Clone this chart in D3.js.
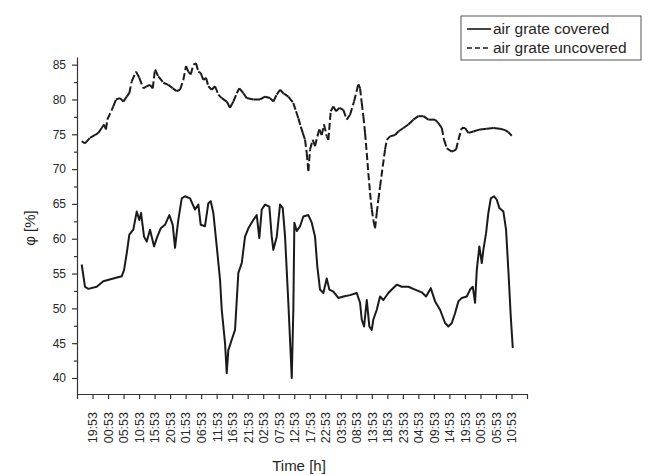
<!DOCTYPE html>
<html>
<head>
<meta charset="utf-8">
<script src="https://cdn.jsdelivr.net/npm/d3@7"></script>
<style>
body { margin: 0; background: #fff; }
text { font-family: "Liberation Sans", Arial, sans-serif; fill: #262626; }
</style>
</head>
<body>
<svg width="650" height="475"></svg>
<script>
var timeLabels = ["19:53","00:53","05:53","10:53","15:53","20:53","01:53","06:53","11:53","16:53",
                  "21:53","02:53","07:53","12:53","17:53","22:53","03:53","08:53","13:53","18:53",
                  "23:53","04:53","09:53","14:53","19:53","00:53","05:53","10:53"];
var phiTicks = [40, 45, 50, 55, 60, 65, 70, 75, 80, 85];

// hours since first 19:53 tick, relative humidity in %
var coveredHours = [-3.48,-2.42,-1.35,1.35,3.48,6.70,9.41,10.15,11.02,11.86,13.15,14.24,15.08,15.63,16.60,17.47,
  18.53,19.82,20.88,21.98,23.36,24.75,25.85,26.59,27.13,27.65,28.75,29.81,31.42,33.03,34.10,34.87,36.25,37.32,
  38.09,38.93,40.03,41.09,41.64,42.70,43.25,43.76,44.86,45.92,46.99,48.08,49.15,50.21,51.82,52.92,53.75,54.53,
  55.59,56.98,57.75,58.27,59.36,60.43,61.30,62.04,63.10,64.20,64.71,65.04,65.81,66.87,67.93,69.54,70.64,71.70,
  72.44,73.31,74.38,75.47,76.31,77.60,79.21,80.82,82.98,85.14,86.21,86.75,87.50,88.37,89.20,89.98,90.49,91.59,
  92.65,93.72,95.33,96.42,98.03,99.65,101.77,103.93,106.09,107.48,108.99,110.38,111.99,113.60,114.66,115.76,
  116.82,117.89,118.98,120.59,121.66,122.53,123.27,123.82,124.65,125.43,125.94,126.81,127.55,128.33,129.39,
  130.26,131.10,132.39,133.25,133.99,134.77,135.42];
var coveredPhi = [56.3,53.1,52.8,53.1,53.9,54.3,54.6,55.5,57.9,60.6,61.3,63.9,62.7,63.7,60.3,59.6,
  61.3,58.9,60.3,61.5,62.0,63.4,62.0,58.7,60.8,62.7,65.8,66.1,65.8,64.2,64.9,62.0,61.8,65.1,
  65.4,63.7,58.9,54.1,49.8,45.0,40.7,44.0,45.5,46.9,55.1,56.5,60.3,61.5,62.7,63.4,60.1,64.2,
  64.9,64.6,60.3,58.4,60.3,64.9,64.4,60.3,50.8,40.0,49.8,62.3,61.1,61.8,63.2,63.4,62.3,60.3,
  56.0,52.7,52.2,54.3,52.7,52.4,51.5,51.7,51.9,52.2,50.8,48.4,47.4,51.2,47.4,46.9,48.4,49.8,
  51.7,51.2,52.2,52.7,53.4,53.1,53.1,52.7,52.3,51.7,52.9,51.0,49.8,47.9,47.4,47.9,
  49.3,51.0,51.5,51.7,52.7,53.1,50.8,55.5,58.9,56.5,58.4,60.8,63.7,65.8,66.1,
  65.6,64.4,63.9,61.3,55.5,48.8,44.3];

var uncoveredHours = [-3.48,-2.42,-0.81,0.81,1.87,2.96,3.71,4.35,4.77,6.19,6.70,7.57,8.86,9.93,11.02,11.86,
  12.63,14.02,15.08,16.37,17.47,18.53,19.40,20.14,21.21,22.82,24.43,25.85,27.13,28.20,29.26,30.13,30.87,31.65,
  32.48,33.35,34.10,34.87,35.71,36.58,37.32,38.41,39.48,40.54,41.64,43.25,44.31,45.38,46.47,47.31,48.60,49.69,
  51.82,53.98,55.59,57.20,58.27,59.36,60.43,61.49,63.10,64.71,65.58,66.32,67.10,67.74,68.48,69.03,69.55,70.09,
  70.96,71.70,72.45,73.09,73.86,74.60,75.48,75.99,76.76,77.60,78.47,79.54,80.82,81.92,82.98,84.27,85.66,86.21,
  86.75,87.27,87.82,88.37,88.88,89.43,89.98,90.49,91.04,91.59,92.10,92.65,93.52,94.26,94.81,95.87,97.49,98.55,
  100.16,101.77,103.38,104.99,106.61,108.22,110.38,111.44,112.54,113.28,114.15,115.76,117.15,117.89,118.98,
  120.04,121.11,122.72,124.88,127.04,129.16,131.32,132.95,134.00,135.09];
var uncoveredPhi = [74.0,73.7,74.5,74.9,75.2,75.9,76.4,75.7,77.1,78.5,79.0,80.0,80.2,79.7,80.4,80.9,
  82.6,84.0,83.1,81.6,81.9,82.1,81.6,84.3,83.3,82.4,82.1,81.6,81.2,81.4,82.8,84.8,84.0,83.6,
  85.0,85.2,84.0,83.8,82.8,83.1,81.9,81.4,81.9,80.7,80.2,79.7,78.8,79.7,80.9,81.6,80.9,80.2,
  80.0,80.0,80.4,80.2,79.7,80.7,81.4,80.9,80.4,79.5,78.3,77.3,76.1,75.2,74.2,72.3,69.7,72.8,
  74.2,73.3,74.7,75.7,74.9,76.4,74.7,74.2,78.3,79.0,78.3,78.8,78.5,77.1,77.8,79.7,82.2,81.6,
  79.5,77.6,75.2,72.3,69.4,66.6,64.2,62.7,61.5,63.7,65.6,67.5,70.4,72.8,74.2,74.7,74.9,75.4,
  75.9,76.4,77.1,77.6,77.6,77.1,77.1,76.6,75.9,74.2,73.0,72.5,72.8,74.2,75.9,
  75.9,75.2,75.4,75.7,75.8,75.9,75.8,75.6,75.3,74.8];

var covered = coveredHours.map(function (h, i) { return { t: h, v: coveredPhi[i] }; });
var uncovered = uncoveredHours.map(function (h, i) { return { t: h, v: uncoveredPhi[i] }; });

var svg = d3.select("svg");

var x = d3.scaleLinear().domain([-5, 140]).range([77, 527]);
var y = d3.scaleLinear().domain([37.7, 86.1]).range([394, 57]);

var line = d3.line()
    .x(function (d) { return x(d.t); })
    .y(function (d) { return y(d.v); });

// x axis
var xTicks = [-5].concat(timeLabels.map(function (s, i) { return i * 5; }), [140]);
var xAxis = svg.append("g")
    .attr("transform", "translate(0,394)")
    .call(d3.axisBottom(x).tickValues(xTicks).tickSize(5).tickSizeOuter(0)
        .tickFormat(function (d) { var i = d / 5; return (i >= 0 && i < timeLabels.length) ? timeLabels[i] : ""; }));
xAxis.selectAll("text")
    .attr("transform", "rotate(-90)")
    .attr("text-anchor", "end")
    .attr("x", -18)
    .attr("y", 0)
    .attr("dy", "0.35em")
    .style("font-size", "12.5px");

// y axis
var yAxis = svg.append("g")
    .attr("transform", "translate(77,0)")
    .call(d3.axisLeft(y).tickValues(phiTicks).tickSize(5).tickPadding(6).tickSizeOuter(0));
yAxis.selectAll("text").style("font-size", "12px");

svg.append("g")
    .attr("transform", "translate(77,0)")
    .call(d3.axisLeft(y).tickValues(phiTicks.map(function (d) { return d + 2.5; }).filter(function (d) { return d < 86; }))
        .tickSize(3).tickFormat("").tickSizeOuter(0))
    .select(".domain").remove();

svg.selectAll(".domain, .tick line").attr("stroke", "#333").attr("stroke-width", 1.2);

// covered: solid line
svg.append("path")
    .datum(covered)
    .attr("d", line)
    .attr("fill", "none")
    .attr("stroke", "#1a1a1a")
    .attr("stroke-width", 2)
    .attr("stroke-linejoin", "round");

// uncovered: dashed, dash pattern restarts at every point
svg.append("g").selectAll("path")
    .data(d3.pairs(uncovered))
    .enter()
    .append("path")
    .attr("d", function (p) { return line(p); })
    .attr("fill", "none")
    .attr("stroke", "#1a1a1a")
    .attr("stroke-width", 2)
    .attr("stroke-dasharray", "7,3");

// axis titles
svg.append("text")
    .attr("transform", "translate(35,228) rotate(-90)")
    .attr("text-anchor", "middle")
    .style("font-size", "15px")
    .text("φ [%]");

svg.append("text")
    .attr("x", 299)
    .attr("y", 471)
    .attr("text-anchor", "middle")
    .style("font-size", "15px")
    .text("Time [h]");

// legend
var legend = svg.append("g");
legend.append("rect")
    .attr("x", 461).attr("y", 16).attr("width", 180).attr("height", 44)
    .attr("fill", "#fff").attr("stroke", "#555").attr("stroke-width", 1);
var legendItems = [
    { label: "air grate covered", dash: null, yy: 29 },
    { label: "air grate uncovered", dash: "5,3", yy: 48 }
];
legendItems.forEach(function (d) {
    legend.append("line")
        .attr("x1", 467).attr("x2", 491).attr("y1", d.yy).attr("y2", d.yy)
        .attr("stroke", "#1a1a1a").attr("stroke-width", 1.6)
        .attr("stroke-dasharray", d.dash);
    legend.append("text")
        .attr("x", 493).attr("y", d.yy + 5)
        .style("font-size", "15.5px")
        .text(d.label);
});
</script>
</body>
</html>
